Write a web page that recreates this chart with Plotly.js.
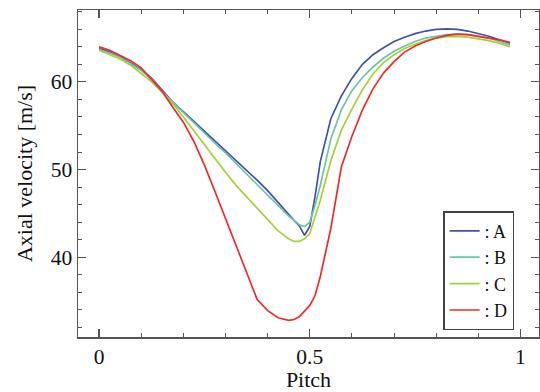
<!DOCTYPE html>
<html>
<head>
<meta charset="utf-8">
<script src="https://cdn.plot.ly/plotly-3.0.1.min.js"></script>
<style>
  html, body { margin: 0; padding: 0; background: #fff; }
  #chart { width: 540px; height: 392px; }
</style>
</head>
<body>
<div id="chart"></div>
<script>
// Axial velocity profiles across one blade pitch
const pitch = [0, 0.025, 0.05, 0.075, 0.1, 0.125, 0.15, 0.175, 0.2, 0.225,
  0.25, 0.275, 0.3, 0.325, 0.35, 0.375, 0.4, 0.425, 0.45, 0.4625,
  0.475, 0.4875, 0.5, 0.5125, 0.525, 0.55, 0.575, 0.6, 0.625, 0.65,
  0.675, 0.7, 0.725, 0.75, 0.775, 0.8, 0.825, 0.85, 0.875, 0.9,
  0.925, 0.95, 0.975];

const seriesNames = [': A', ': B', ': C', ': D'];
const seriesColors = ['#4152a8', '#6cc4a2', '#a9cf38', '#ee2b2b'];

const velA = [63.8, 63.4, 62.9, 62.2, 61.4, 60.4, 59.0, 57.7, 56.6, 55.5,
  54.4, 53.2, 52.1, 51.0, 49.9, 48.8, 47.6, 46.2, 44.9, 44.2,
  43.6, 42.5, 43.5, 46.9, 50.9, 55.8, 58.4, 60.4, 62.0, 63.1,
  63.9, 64.6, 65.1, 65.5, 65.8, 66.0, 66.05, 66.0, 65.8, 65.5,
  65.2, 64.8, 64.4];

const velB = [63.7, 63.3, 62.8, 62.1, 61.3, 60.3, 58.9, 57.7, 56.5, 55.3,
  54.2, 53.0, 51.9, 50.7, 49.5, 48.3, 47.1, 45.8, 44.7, 44.2,
  43.7, 43.5, 44.0, 45.9, 48.2, 53.5, 56.8, 59.0, 60.5, 61.7,
  62.7, 63.5, 64.1, 64.6, 65.0, 65.2, 65.4, 65.45, 65.4, 65.2,
  65.0, 64.6, 64.2];

const velC = [63.6, 63.1, 62.6, 61.9, 61.0, 60.0, 58.8, 57.5, 56.0, 54.4,
  52.8, 51.3, 49.7, 48.2, 46.9, 45.6, 44.4, 43.0, 42.1, 41.8,
  41.8, 42.1, 42.7, 44.5, 46.5, 51.0, 54.5, 56.9, 59.1, 60.9,
  62.2, 63.1, 63.8, 64.3, 64.7, 65.0, 65.15, 65.2, 65.1, 64.9,
  64.7, 64.4, 64.0];

const velD = [64.0, 63.6, 63.0, 62.4, 61.6, 60.3, 58.9, 57.1, 55.4, 53.2,
  50.5, 47.5, 44.4, 41.4, 38.2, 35.2, 33.9, 33.1, 32.8, 32.9,
  33.2, 33.8, 34.5, 35.6, 37.8, 43.3, 50.3, 53.8, 56.8, 59.2,
  61.0, 62.3, 63.4, 64.1, 64.6, 65.0, 65.3, 65.45, 65.4, 65.2,
  65.0, 64.8, 64.5];

const xTickVals = [0, 0.5, 1];
const xTickText = ['0', '0.5', '1'];
const yTickVals = [40, 50, 60];
const yTickText = ['40', '50', '60'];

const serif = "'Liberation Serif', 'Times New Roman', serif";
const axisColor = '#555555';
const textColor = '#111111';

const traces = [velA, velB, velC, velD].map((v, i) => ({
  x: pitch,
  y: v,
  type: 'scatter',
  mode: 'lines',
  name: seriesNames[i],
  line: { color: seriesColors[i], width: 1.7 }
}));

const axisCommon = {
  showgrid: false,
  zeroline: false,
  showline: true,
  linecolor: axisColor,
  linewidth: 1.5,
  mirror: 'ticks',
  ticks: 'inside',
  ticklen: 8,
  tickwidth: 1.2,
  tickcolor: axisColor,
  tickfont: { family: serif, size: 21.5, color: textColor },
  minor: { ticks: 'inside', ticklen: 4, tickwidth: 1, tickcolor: axisColor, showgrid: false }
};

const layout = {
  width: 540,
  height: 392,
  margin: { l: 78, r: 1, t: 10, b: 55 },
  paper_bgcolor: '#ffffff',
  plot_bgcolor: '#ffffff',
  showlegend: true,
  xaxis: Object.assign({}, axisCommon, {
    range: [-0.05, 1.044],
    tickmode: 'array',
    tickvals: xTickVals,
    ticktext: xTickText,
    minor: Object.assign({}, axisCommon.minor, { dtick: 0.1, tick0: 0 }),
    title: { text: 'Pitch', font: { family: serif, size: 22, color: textColor }, standoff: 12 }
  }),
  yaxis: Object.assign({}, axisCommon, {
    range: [30.9, 68.2],
    tickmode: 'array',
    tickvals: yTickVals,
    ticktext: yTickText,
    minor: Object.assign({}, axisCommon.minor, { dtick: 2, tick0: 0 }),
    title: { text: 'Axial velocity [m/s]', font: { family: serif, size: 22, color: textColor }, standoff: 12 }
  }),
  legend: {
    x: 0.792,
    y: 0.385,
    xanchor: 'left',
    yanchor: 'top',
    bgcolor: '#ffffff',
    bordercolor: '#444444',
    borderwidth: 1.5,
    font: { family: serif, size: 18, color: textColor },
    tracegroupgap: 0
  }
};

Plotly.newPlot('chart', traces, layout, { staticPlot: true, displayModeBar: false });
</script>
</body>
</html>
